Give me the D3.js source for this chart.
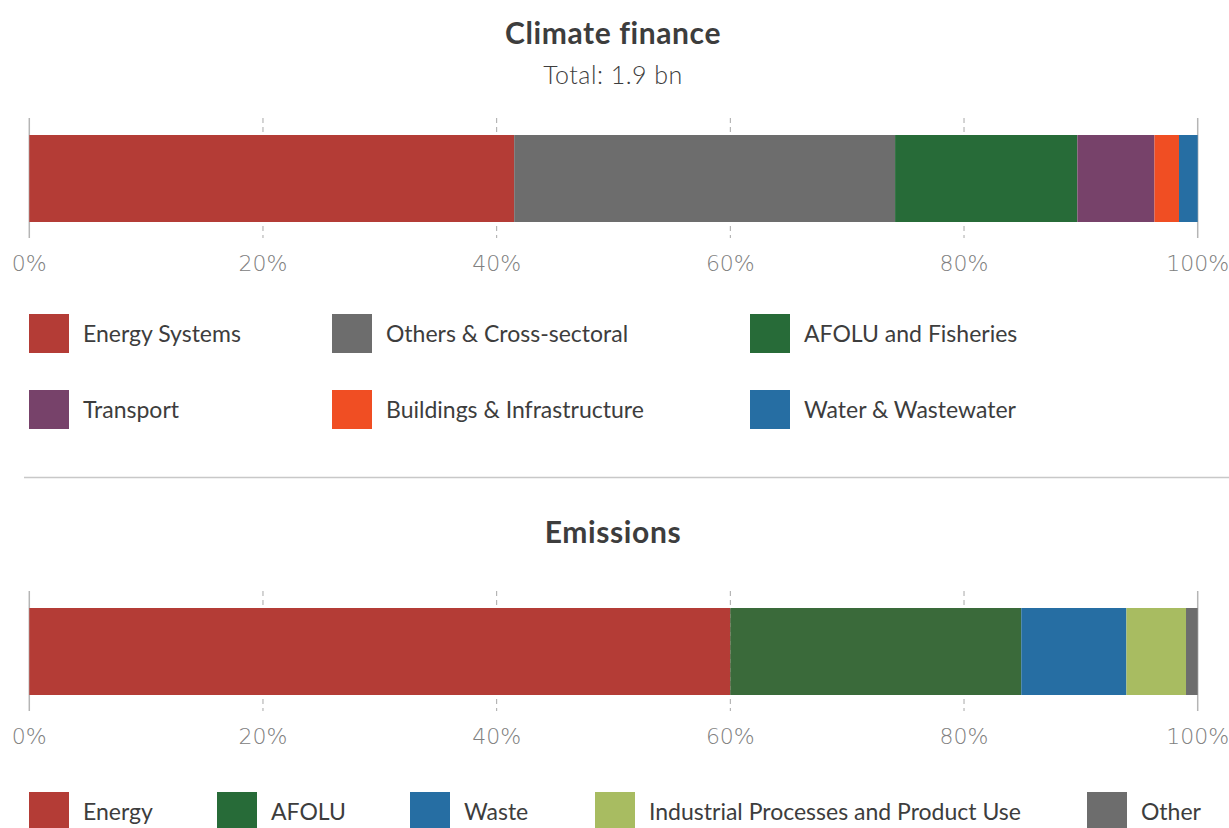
<!DOCTYPE html>
<html>
<head>
<meta charset="utf-8">
<script src="https://cdn.jsdelivr.net/npm/d3@7"></script>
<style>
  body { margin: 0; background: #fff; font-family: Lato, "Open Sans", sans-serif; }
</style>
</head>
<body>
<div id="chart"></div>
<script>
// Climate finance shares (%)
const financeSectors = ["Energy Systems", "Others & Cross-sectoral", "AFOLU and Fisheries", "Transport", "Buildings & Infrastructure", "Water & Wastewater"];
const financeValues = [41.5, 32.6, 15.6, 6.6, 2.1, 1.6];
const financeColors = ["#b43c36", "#6d6d6d", "#276b38", "#77426a", "#f04e23", "#266ea3"];

// Emissions shares (%)
const emissionSectors = ["Energy", "AFOLU", "Waste", "Industrial Processes and Product Use", "Other"];
const emissionValues = [60.0, 24.9, 9.0, 5.1, 1.0];
const emissionColors = ["#b43c36", "#3a6a3a", "#266ea3", "#a8bc61", "#6d6d6d"];
const emissionLegendColors = ["#b43c36", "#276b38", "#266ea3", "#a8bc61", "#6d6d6d"];

const tickValues = [0, 20, 40, 60, 80, 100];

const width = 1229;
const height = 828;

const svg = d3.select("#chart").append("svg")
    .attr("width", width)
    .attr("height", height);

const x = d3.scaleLinear().domain([0, 100]).range([29.3, 1197.7]);

function stack(values) {
    let acc = 0;
    return values.map((v, i) => {
        const d = { i: i, x0: acc, x1: acc + v };
        acc += v;
        return d;
    });
}

function drawBar(top, values, colors) {
    const barH = 87;
    const g = svg.append("g");

    // grid/tick lines
    g.selectAll("line.tick")
        .data(tickValues)
        .enter()
        .append("line")
        .attr("x1", d => x(d))
        .attr("x2", d => x(d))
        .attr("y1", top - 17)
        .attr("y2", top + barH + 16)
        .attr("stroke", d => (d === 0 || d === 100) ? "#b5b5b5" : "#a8a8a8")
        .attr("stroke-width", d => (d === 0 || d === 100) ? 1.5 : 1)
        .attr("stroke-dasharray", d => (d === 0 || d === 100) ? null : "5,4");

    // segments
    g.selectAll("rect")
        .data(stack(values))
        .enter()
        .append("rect")
        .attr("x", d => x(d.x0))
        .attr("y", top)
        .attr("width", d => x(d.x1) - x(d.x0))
        .attr("height", barH)
        .attr("fill", d => colors[d.i]);

    // tick labels
    g.selectAll("text")
        .data(tickValues)
        .enter()
        .append("text")
        .attr("x", d => x(d))
        .attr("y", top + barH + 49)
        .attr("text-anchor", "middle")
        .attr("font-family", "'DejaVu Sans', sans-serif")
        .attr("font-size", 22)
        .attr("font-weight", 200)
        .attr("fill", "#808080")
        .text(d => d + "%");
}

function legendItem(px, py, color, label) {
    svg.append("rect")
        .attr("x", px).attr("y", py)
        .attr("width", 40).attr("height", 39)
        .attr("fill", color);
    svg.append("text")
        .attr("x", px + 54).attr("y", py + 28)
        .attr("font-size", 23)
        .attr("fill", "#3d3d3d")
        .text(label);
}

// Top title
svg.append("text")
    .attr("x", 613).attr("y", 44)
    .attr("text-anchor", "middle")
    .attr("font-size", 30).attr("font-weight", 700)
    .attr("letter-spacing", 0.6)
    .attr("fill", "#3d3d3d")
    .text("Climate finance");
svg.append("text")
    .attr("x", 613).attr("y", 84)
    .attr("text-anchor", "middle")
    .attr("font-size", 25).attr("font-weight", 300)
    .attr("letter-spacing", 0.5)
    .attr("fill", "#3d3d3d")
    .text("Total: 1.9 bn");

drawBar(135, financeValues, financeColors);

const colX = [29, 332, 750];
financeSectors.forEach((s, i) => {
    legendItem(colX[i % 3], i < 3 ? 314 : 390, financeColors[i], s);
});

// separator
svg.append("line")
    .attr("x1", 24).attr("x2", width)
    .attr("y1", 477.5).attr("y2", 477.5)
    .attr("stroke", "#c8c8c8").attr("stroke-width", 1.5);

// Emissions
svg.append("text")
    .attr("x", 613).attr("y", 543)
    .attr("text-anchor", "middle")
    .attr("font-size", 30).attr("font-weight", 700)
    .attr("letter-spacing", 0.6)
    .attr("fill", "#3d3d3d")
    .text("Emissions");

drawBar(608, emissionValues, emissionColors);

const emX = [29, 217, 410, 595, 1087];
emissionSectors.forEach((s, i) => {
    legendItem(emX[i], 792, emissionLegendColors[i], s);
});
</script>
</body>
</html>
